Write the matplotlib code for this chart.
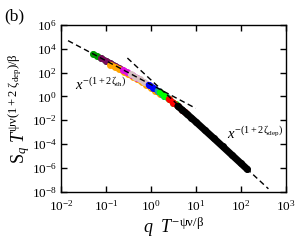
# scaling collapse S_q T^(...) vs q T^(-psi nu/beta)
import matplotlib
matplotlib.use('Agg')
import matplotlib.pyplot as plt

plt.rcParams['font.family'] = ['Liberation Serif', 'DejaVu Serif']
plt.rcParams['mathtext.fontset'] = 'custom'
plt.rcParams['mathtext.rm'] = 'Liberation Serif'
plt.rcParams['mathtext.it'] = 'Liberation Serif:italic'
plt.rcParams['mathtext.bf'] = 'Liberation Serif:bold'

# data, one array pair per temperature
green4_x = [0.052, 0.063, 0.079, 0.1, 0.126, 0.158]
green4_y = [3650, 2500, 1570, 989, 620, 388]
maroon_x = [0.079, 0.1, 0.126, 0.158, 0.2, 0.251]
maroon_y = [1570, 989, 620, 388, 243, 151]
orange_x = [0.126, 0.158, 0.2, 0.251, 0.316, 0.398, 0.501, 0.631, 0.794, 1.0, 1.26, 1.58]
orange_y = [480, 300, 188, 117, 72, 44, 27, 16, 9.5, 5.4, 3.0, 1.65]
magenta_x = [0.24, 0.3, 0.38, 0.5]
magenta_y = [165, 104, 63, 35]
brown_x = [0.355, 0.45, 0.56, 0.71, 0.89, 1.0]
brown_y = [73, 45, 27, 16, 9.6, 7.1]
blue_x = [0.89, 1.12, 1.41, 1.78, 2.0]
blue_y = [9.6, 5.6, 3.05, 1.6, 1.18]
teal_x = [1.41, 1.78, 2.24]
teal_y = [3.05, 1.6, 0.85]
lime_x = [1.58, 2.0, 2.51, 3.16, 3.55]
lime_y = [2.22, 1.18, 0.611, 0.308, 0.215]
red_x = [2.51, 3.16, 3.98, 5.01, 5.62]
red_y = [0.611, 0.308, 0.151, 0.0724, 0.05]
black_x = [3.98, 5.01, 6.31, 7.94, 10, 15.8, 25.1, 39.8, 63.1, 100, 141]
black_y = [0.151, 0.0724, 0.0342, 0.0159, 0.00733, 0.00151, 3.08e-4,
           6.21e-5, 1.24e-5, 2.49e-6, 7.45e-7]

series = [
    (green4_x, green4_y, '#009a00'),
    (maroon_x, maroon_y, '#780a5c'),
    (orange_x, orange_y, '#ffa500'),
    (magenta_x, magenta_y, '#e010e0'),
    (brown_x, brown_y, '#d8c0c4'),
    (blue_x, blue_y, '#0000ff'),
    (teal_x, teal_y, '#20a0a0'),
    (lime_x, lime_y, '#00ff00'),
    (red_x, red_y, '#ff0000'),
    (black_x, black_y, '#000000'),
]

# power-law guides (straight on log-log, so two end points each)
th_x = [0.0143, 10]
th_y = [48900, 0.1]
dep_x = [0.3, 415]
dep_y = [1690, 1.72e-8]

fig = plt.figure(figsize=(2.95, 2.41), dpi=100)
ax = fig.add_axes([0.207, 0.205, 0.761, 0.691])

for sx, sy, col in series:
    lw = 5.0 if col == '#000000' else 4.2
    ax.plot(sx, sy, '-', color=col, lw=lw, solid_capstyle='round', zorder=2)
    ax.plot(sx, sy, 'o', color=col, ms=5, mew=0, zorder=2)

ax.plot(th_x, th_y, '--', color='black', lw=1.0, dashes=(4, 2.5), zorder=3)
ax.plot(dep_x, dep_y, '--', color='black', lw=1.0, dashes=(4, 2.5), zorder=3)

ax.set_xscale('log')
ax.set_yscale('log')
ax.set_xlim(1e-2, 1e3)
ax.set_ylim(1e-8, 1e6)
ax.set_xticks([1e-2, 1e-1, 1e0, 1e1, 1e2, 1e3])
ax.set_yticks([1e-8, 1e-6, 1e-4, 1e-2, 1e0, 1e2, 1e4, 1e6])
ax.minorticks_off()
ax.tick_params(which='major', direction='in', length=4, width=1.0,
               top=True, right=True, labelsize=9.5)
ax.tick_params(axis='x', pad=5)
ax.tick_params(axis='y', pad=3)
for sp in ax.spines.values():
    sp.set_linewidth(1.0)

ax.set_xlabel(r'$q\ \ T^{\mathrm{−ψν/β}}$', fontsize=13, labelpad=2)
ax.set_ylabel(r'$\mathrm{S}_{q}\ T^{\mathrm{ψν(1+2\ ζ_{dep})/β}}$',
              fontsize=13, labelpad=0)

ax.text(0.0205, 3.5, r'$x^{\mathrm{-(1+2\,ζ_{th})}}$', fontsize=10.5)
ax.text(50, 2.7e-4, r'$x^{\mathrm{-(1+2\,ζ_{dep})}}$', fontsize=10.5)
fig.text(0.015, 0.915, '(b)', fontsize=12.5)

fig.savefig('out.png', dpi=100)
